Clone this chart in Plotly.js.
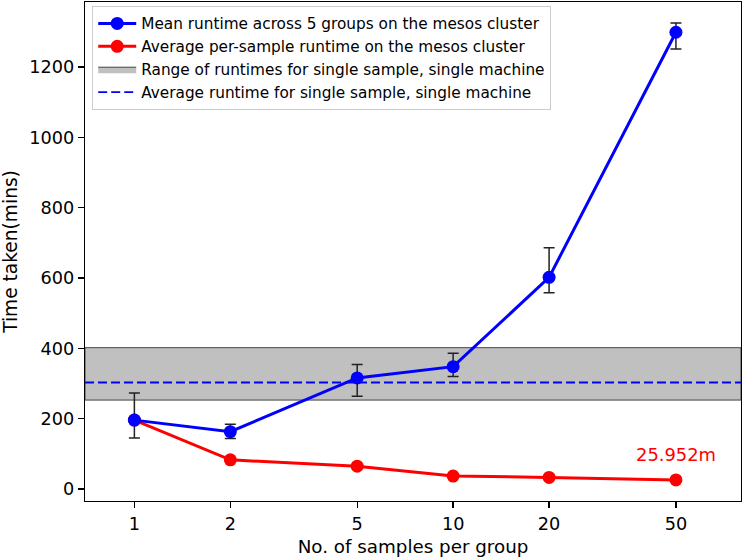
<!DOCTYPE html>
<html>
<head>
<meta charset="utf-8">
<script src="https://cdn.plot.ly/plotly-3.0.1.min.js"></script>
<style>
  html, body { margin: 0; padding: 0; background: #fff; }
  #graph { width: 744px; height: 558px; }
</style>
</head>
<body>
<div id="graph"></div>
<script>
// samples per group
const groupSizes = [1, 2, 5, 10, 20, 50];
const tickLabels = ["1", "2", "5", "10", "20", "50"];

// mean runtime across 5 groups (mins) and its error bar ends
const meanRuntime = [196, 163, 316, 348, 602, 1299];
const errTop = [273, 184, 354, 386, 686, 1325];
const errBottom = [145, 144, 264, 320, 558, 1251];

// average per-sample runtime (mins)
const perSample = [196, 83, 65, 37, 33, 25.952];

// single machine, single sample
const singleRange = [253, 402];
const singleMean = 303;

const xLimits = [0.7, 80];
const yLimits = [-34, 1385];
const yTicks = [0, 200, 400, 600, 800, 1000, 1200];

const errUp = meanRuntime.map((v, i) => errTop[i] - v);
const errDown = meanRuntime.map((v, i) => v - errBottom[i]);

const font = "DejaVu Sans, sans-serif";

const data = [
    {
        x: [xLimits[0], xLimits[1], xLimits[1], xLimits[0], xLimits[0]],
        y: [singleRange[0], singleRange[0], singleRange[1], singleRange[1], singleRange[0]],
        type: "scatter",
        mode: "lines",
        fill: "toself",
        fillcolor: "#c0c0c0",
        line: { color: "#444", width: 1 },
        name: "Range of runtimes for single sample, single machine",
        legendrank: 3,
    },
    {
        x: xLimits,
        y: [singleMean, singleMean],
        type: "scatter",
        mode: "lines",
        line: { color: "#0000ff", width: 1.8, dash: "9px,4px" },
        name: "Average runtime for single sample, single machine",
        legendrank: 4,
    },
    {
        x: groupSizes,
        y: perSample,
        type: "scatter",
        mode: "lines+markers",
        line: { color: "#ff0000", width: 3 },
        marker: { color: "#ff0000", size: 13 },
        name: "Average per-sample runtime on the mesos cluster",
        legendrank: 2,
    },
    {
        x: groupSizes,
        y: meanRuntime,
        type: "scatter",
        mode: "lines+markers",
        line: { color: "#0000ff", width: 3 },
        marker: { color: "#0000ff", size: 13 },
        error_y: {
            type: "data",
            symmetric: false,
            array: errUp,
            arrayminus: errDown,
            color: "#222",
            thickness: 1.5,
            width: 5.5,
        },
        name: "Mean runtime across 5 groups on the mesos cluster",
        legendrank: 1,
    },
];

const layout = {
    width: 744,
    height: 558,
    margin: { l: 85, r: 3, t: 2, b: 57 },
    paper_bgcolor: "#fff",
    plot_bgcolor: "#fff",
    font: { family: font, size: 18, color: "#000" },
    showlegend: true,
    legend: {
        x: 0.011,
        y: 0.992,
        xanchor: "left",
        yanchor: "top",
        bgcolor: "rgba(255,255,255,0.8)",
        bordercolor: "#ccc",
        borderwidth: 1,
        itemwidth: 38,
        font: { family: font, size: 15.3, color: "#000" },
        tracegroupgap: 0,
    },
    xaxis: {
        type: "log",
        range: [Math.log10(xLimits[0]), Math.log10(xLimits[1])],
        tickvals: groupSizes,
        ticktext: tickLabels,
        ticks: "outside",
        ticklen: 6,
        tickwidth: 1.3,
        tickcolor: "#000",
        showline: true,
        linecolor: "#000",
        linewidth: 1.3,
        mirror: true,
        showgrid: false,
        zeroline: false,
        tickfont: { family: font, size: 17.7 },
        title: { text: "No. of samples per group", font: { family: font, size: 18.3 }, standoff: 7 },
    },
    yaxis: {
        range: yLimits,
        tickvals: yTicks,
        ticks: "outside",
        ticklen: 6,
        tickwidth: 1.3,
        tickcolor: "#000",
        showline: true,
        linecolor: "#000",
        linewidth: 1.3,
        mirror: true,
        showgrid: false,
        zeroline: false,
        tickfont: { family: font, size: 17.7 },
        title: { text: "Time taken(mins)", font: { family: font, size: 18.6 }, standoff: 7 },
    },
    annotations: [
        {
            x: Math.log10(groupSizes[5]),
            y: 97,
            xref: "x",
            yref: "y",
            text: perSample[5] + "m",
            showarrow: false,
            font: { family: font, size: 17.9, color: "#ff0000" },
        },
    ],
};

Plotly.newPlot("graph", data, layout, { displayModeBar: false, staticPlot: true });
</script>
</body>
</html>
